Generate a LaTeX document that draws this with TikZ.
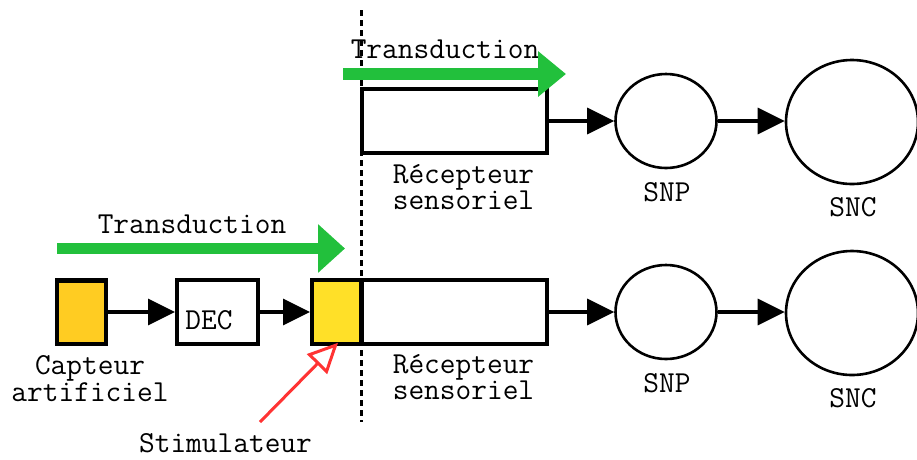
\documentclass[tikz,border=0pt]{standalone}
\usepackage{fontspec}
\usetikzlibrary{arrows.meta,shapes.geometric}
\definecolor{tgreen}{RGB}{34,192,60}
\definecolor{tred}{RGB}{255,51,51}
\definecolor{capfill}{RGB}{255,204,34}
\definecolor{stimfill}{RGB}{255,224,40}
\begin{document}
\begin{tikzpicture}[x=1pt,y=-1pt,
  lbl/.style={font=\ttfamily\fontsize{30.5}{25}\selectfont, inner sep=0pt, anchor=base, align=center},
  blk/.style={draw, line width=4pt, inner sep=0pt, minimum width=#1, minimum height=63.5pt},
  circ/.style={draw, ellipse, line width=2.6pt, inner sep=0pt},
  conn/.style={line width=3.2pt, -{Triangle[length=27pt,width=26pt]}},
  gbig/.style={draw=tgreen, color=tgreen},
  dashline/.style={line width=3pt, dash pattern=on 6pt off 4pt}
]
\useasboundingbox (0,0) rectangle (917,459);

% dashed separator
\coordinate (dtop) at (361,10);
\coordinate (dbot) at (361,422);
\draw[dashline] (dtop) -- (dbot);

% ---- upper row ----
\node[blk=185.5pt] (recA) at (454.25,121) {};
\node[circ, minimum width=101pt, minimum height=94pt] (snpA) at (666,121) {};
\node[circ, minimum width=132pt, minimum height=124pt] (sncA) at (852,122) {};
\draw[conn] (recA.east) -- (snpA.west);
\draw[conn] (snpA.east) -- (sncA.west |- snpA.east);
\node[lbl] (recAt) at (463.5,209.5) {Récepteur\\sensoriel};
\node[lbl] (snpAt) at (667,201) {SNP};
\node[lbl] (sncAt) at (853,216) {SNC};
\node[lbl] (trA) at (445,58) {Transduction};
\coordinate (gA1) at (343,74);
\coordinate (gA2) at (566,74);
\draw[gbig, line width=12pt, -{Triangle[length=28pt,width=44pt]}] (gA1) -- (gA2);

% ---- lower row ----
\node[blk=185.5pt] (recB) at (454.25,312) {};
\node[blk=49pt, fill=stimfill] (stim) at (336.5,312) {};
\node[blk=81pt] (dec) at (217.5,312) {};
\node[lbl, anchor=center] (dect) at (209,320) {DEC};
\node[blk=49pt, line width=4.5pt, fill=capfill] (cap) at (81.5,312) {};
\node[circ, minimum width=101pt, minimum height=94pt] (snpB) at (666,312) {};
\node[circ, minimum width=132pt, minimum height=124pt] (sncB) at (852,313) {};
\draw[conn] (cap.east) -- (dec.west);
\draw[conn] (dec.east) -- (stim.west);
\draw[conn] (recB.east) -- (snpB.west);
\draw[conn] (snpB.east) -- (sncB.west |- snpB.east);
\node[lbl] (recBt) at (463.5,399.5) {Récepteur\\sensoriel};
\node[lbl] (snpBt) at (667,392) {SNP};
\node[lbl] (sncBt) at (853,407) {SNC};
\node[lbl, font=\ttfamily\fontsize{30.5}{26.5}\selectfont] (capt) at (90,401) {Capteur\\artificiel};
\node[lbl] (trB) at (192,233) {Transduction};
\coordinate (gB1) at (57,248.5);
\coordinate (gB2) at (345,248.5);
\draw[gbig, line width=11pt, -{Triangle[length=27pt,width=47pt]}] (gB1) -- (gB2);

% stimulator pointer
\node[lbl, text depth=0pt] (stimt) at (225.5,452) {Stimulateur};
\coordinate (rs) at (260,422);
\draw[tred, line width=3pt, -{Triangle[open,fill=white,length=30pt,width=28pt]}] (rs) -- ([xshift=1.5pt,yshift=3pt]stim.south);
\end{tikzpicture}
\end{document}
